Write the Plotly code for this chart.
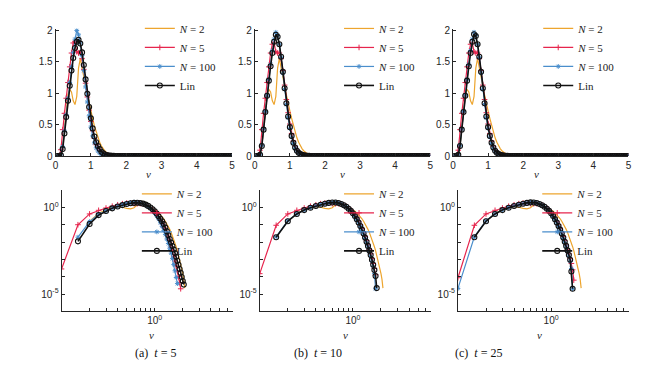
import plotly.graph_objects as go

W, H = 669, 372

# speed grid (same for every panel)
V = [0.05, 0.10, 0.15, 0.20, 0.25, 0.30, 0.35, 0.40, 0.45, 0.50,
     0.55, 0.60, 0.65, 0.70, 0.75, 0.80, 0.85, 0.90, 0.95, 1.00,
     1.05, 1.10, 1.15, 1.20, 1.25, 1.30, 1.35, 1.40, 1.45, 1.50,
     1.55, 1.60, 1.65, 1.70, 1.75, 1.80, 1.85, 1.90, 1.95, 2.00,
     2.05, 2.10, 2.15, 2.20, 2.25, 2.30, 2.35, 2.40, 2.45, 2.50,
     2.55, 2.60, 2.65, 2.70, 2.75, 2.80, 2.85, 2.90, 2.95, 3.00,
     3.05, 3.10, 3.15, 3.20, 3.25, 3.30, 3.35, 3.40, 3.45, 3.50,
     3.55, 3.60, 3.65, 3.70, 3.75, 3.80, 3.85, 3.90, 3.95, 4.00,
     4.05, 4.10, 4.15, 4.20, 4.25, 4.30, 4.35, 4.40, 4.45, 4.50,
     4.55, 4.60, 4.65, 4.70, 4.75, 4.80, 4.85, 4.90, 4.95, 5.00]

# N = 2 looks the same at every time
N2 = [0, 0, 0, 0.16, 0.45, 0.75, 0.98, 1.06, 1.02, 0.88,
      0.82, 0.95, 1.40, 1.55, 1.42, 1.26, 1.10, 0.96, 0.84, 0.72,
      0.60, 0.48, 0.38, 0.29, 0.22, 0.16, 0.115, 0.080, 0.054, 0.036,
      0.023, 0.0145, 0.0089, 0.0054, 0.0032, 0.0018, 0.0010, 5.5e-4, 2.9e-4, 1.5e-4,
      7e-5, 2.2e-5]

# t = 5
N5_A = [0, 2.8e-4, 0.10, 0.42, 0.68, 0.92, 1.17, 1.42, 1.64, 1.80,
        1.82, 1.66, 1.64, 1.65, 1.55, 1.38, 1.16, 0.94, 0.73, 0.55,
        0.40, 0.28, 0.18, 0.115, 0.071, 0.043, 0.026, 0.015, 0.0088, 0.005,
        0.0028, 0.0015, 8e-4, 4.2e-4, 2.1e-4, 1e-4, 4.6e-5, 2e-5]
N100_A = [0, 0, 0.019, 0.15, 0.40, 0.66, 0.92, 1.17, 1.42, 1.65,
          1.86, 2.00, 1.93, 1.80, 1.60, 1.36, 1.10, 0.86, 0.64, 0.46,
          0.32, 0.21, 0.13, 0.08, 0.047, 0.027, 0.015, 0.0083, 0.0044, 0.0023,
          0.0011, 5e-4, 2.2e-4, 9e-5, 4e-5]
LIN_A = [0, 0, 0.011, 0.11, 0.36, 0.62, 0.88, 1.12, 1.36, 1.56,
         1.72, 1.82, 1.85, 1.79, 1.65, 1.45, 1.22, 0.99, 0.78, 0.60,
         0.44, 0.31, 0.22, 0.16, 0.11, 0.068, 0.042, 0.025, 0.015, 0.0093,
         0.0059, 0.0037, 0.0023, 0.0014, 8.3e-4, 4.9e-4, 2.8e-4, 1.7e-4, 9.5e-5, 5.6e-5,
         3.5e-5]

# t = 10
N5_B = [0, 1.5e-4, 0.093, 0.42, 0.68, 0.92, 1.17, 1.42, 1.64, 1.78,
        1.80, 1.66, 1.64, 1.64, 1.55, 1.36, 1.13, 0.90, 0.69, 0.51,
        0.36, 0.24, 0.155, 0.098, 0.06, 0.036, 0.021, 0.012, 0.0068, 0.0038,
        0.0021, 0.0011, 5.8e-4, 3e-4, 1.3e-4]
N100_B = [0, 0, 0.02, 0.17, 0.43, 0.71, 0.97, 1.22, 1.46, 1.68,
          1.86, 1.97, 1.92, 1.78, 1.57, 1.32, 1.06, 0.82, 0.61, 0.44,
          0.30, 0.20, 0.125, 0.078, 0.047, 0.028, 0.016, 0.0092, 0.0052, 0.0028,
          0.0015, 7.8e-4, 3.9e-4, 1.5e-4, 2e-5]
LIN_B = [0, 0, 0.019, 0.16, 0.42, 0.70, 0.96, 1.20, 1.43, 1.64,
         1.82, 1.93, 1.90, 1.78, 1.58, 1.34, 1.08, 0.84, 0.63, 0.46,
         0.32, 0.21, 0.135, 0.085, 0.052, 0.031, 0.018, 0.0105, 0.006, 0.0033,
         0.0018, 9.5e-4, 4.9e-4, 2.4e-4, 1.1e-4, 2.2e-5]

# t = 25
N5_C = [0, 8.7e-5, 0.093, 0.42, 0.68, 0.92, 1.17, 1.42, 1.64, 1.78,
        1.80, 1.66, 1.64, 1.64, 1.55, 1.36, 1.13, 0.90, 0.69, 0.51,
        0.36, 0.24, 0.155, 0.098, 0.06, 0.036, 0.021, 0.012, 0.0068, 0.0038,
        0.0021, 0.0011, 5.8e-4, 2.5e-4, 6.3e-5]
N100_C = [0, 2.1e-5, 0.02, 0.17, 0.43, 0.71, 0.97, 1.22, 1.46, 1.68,
          1.86, 1.97, 1.92, 1.78, 1.57, 1.32, 1.06, 0.82, 0.61, 0.44,
          0.30, 0.20, 0.125, 0.078, 0.047, 0.028, 0.016, 0.0092, 0.0052, 0.0028,
          0.0015, 7.8e-4, 3e-4, 2e-5]
LIN_C = [0, 0, 0.019, 0.16, 0.42, 0.70, 0.96, 1.20, 1.43, 1.64,
         1.82, 1.94, 1.91, 1.78, 1.58, 1.34, 1.08, 0.84, 0.63, 0.46,
         0.32, 0.21, 0.135, 0.085, 0.052, 0.031, 0.018, 0.0105, 0.006, 0.0033,
         0.0018, 9.5e-4, 2e-4, 2e-5]

CAPTIONS = ['(a)  <i>t</i> = 5', '(b)  <i>t</i> = 10', '(c)  <i>t</i> = 25']
NAMES = ['<i>N</i> = 2', '<i>N</i> = 5', '<i>N</i> = 100', 'Lin']

ORANGE = '#EDA52E'
RED = '#E6254D'
BLUE = '#4A8ECC'
BLACK = '#111111'
AX = '#262626'
SERIF = 'Liberation Serif'
SANS = 'Liberation Sans'


def full(vals, log=False):
    # tail of the distribution is zero on the plotted grid;
    # on log axes the zeros are simply not drawn
    ys = vals + [0.0] * (len(V) - len(vals))
    if log:
        ys = [y if y > 0 else None for y in ys]
    return ys


def add_panel(fig, series, xa, ya, legend, log=False):
    n2, n5, n100, lin = series
    fig.add_trace(go.Scatter(x=V, y=full(n2, log), mode='lines', name=NAMES[0],
                             line=dict(color=ORANGE, width=1.2),
                             xaxis=xa, yaxis=ya, legend=legend))
    fig.add_trace(go.Scatter(x=V, y=full(n5, log), mode='lines+markers', name=NAMES[1],
                             line=dict(color=RED, width=1.2),
                             marker=dict(symbol='cross-thin', size=4,
                                         line=dict(color=RED, width=1)),
                             xaxis=xa, yaxis=ya, legend=legend))
    fig.add_trace(go.Scatter(x=V, y=full(n100, log), mode='lines+markers', name=NAMES[2],
                             line=dict(color=BLUE, width=1.2),
                             marker=dict(symbol='asterisk-open', size=4,
                                         line=dict(color=BLUE, width=1)),
                             xaxis=xa, yaxis=ya, legend=legend))
    fig.add_trace(go.Scatter(x=V, y=full(lin, log), mode='lines+markers', name=NAMES[3],
                             line=dict(color=BLACK, width=1.6),
                             marker=dict(symbol='circle-open', size=5,
                                         line=dict(color=BLACK, width=1.1)),
                             xaxis=xa, yaxis=ya, legend=legend))


fig = go.Figure()

data = [(N2, N5_A, N100_A, LIN_A), (N2, N5_B, N100_B, LIN_B), (N2, N5_C, N100_C, LIN_C)]

# pixel boxes of the axes
top_x = [(45, 223), (246, 423), (446, 623)]
bot_x = [(51, 224), (251, 424), (451, 624)]
top_y = (17, 148)
bot_y = (183, 307.6)
top_leg = [180, 381, 582]
bot_leg = [177, 381, 581]


def px_x(p):
    return p / W


def px_y(p):
    return 1 - p / H


layout = dict(width=W, height=H, margin=dict(l=0, r=0, t=0, b=0),
              paper_bgcolor='white', plot_bgcolor='white')

base_axis = dict(showline=True, linecolor=AX, linewidth=1, ticks='inside', ticklen=3,
                 tickcolor=AX, showgrid=False, zeroline=False, mirror=False,
                 tickfont=dict(family=SANS, size=10, color=AX))

leg_style = dict(xanchor='left', yanchor='top', bgcolor='rgba(0,0,0,0)',
                 font=dict(family=SERIF, size=11, color='#222'),
                 tracegroupgap=0, itemwidth=30)

annotations = []
for i in range(3):
    # linear panel
    k = i + 1
    xa, ya = 'x%d' % k, 'y%d' % k
    leg = 'legend' if k == 1 else 'legend%d' % k
    add_panel(fig, data[i], xa, ya, leg)
    layout['xaxis%d' % k] = dict(base_axis, domain=[px_x(top_x[i][0]), px_x(top_x[i][1])],
                                 range=[0, 5], tickvals=[0, 1, 2, 3, 4, 5], anchor=ya)
    layout['yaxis%d' % k] = dict(base_axis, domain=[px_y(top_y[1]), px_y(top_y[0])],
                                 range=[0, 2.03], tickvals=[0, 0.5, 1, 1.5, 2], anchor=xa)
    layout[leg] = dict(leg_style, x=px_x(top_leg[i] - 50), y=px_y(2))

    # log-log panel
    k = i + 4
    xa, ya = 'x%d' % k, 'y%d' % k
    add_panel(fig, data[i], xa, ya, 'legend%d' % k, log=True)
    layout['xaxis%d' % k] = dict(base_axis, type='log',
                                 domain=[px_x(bot_x[i][0]), px_x(bot_x[i][1])],
                                 range=[-1, 0.84],
                                 tickvals=[0.2, 0.3, 0.4, 0.5, 0.6, 0.7, 0.8, 0.9, 1, 2, 3, 4, 5, 6],
                                 ticktext=['', '', '', '', '', '', '', '', '10<sup>0</sup>',
                                           '', '', '', '', ''],
                                 anchor=ya)
    layout['yaxis%d' % k] = dict(base_axis, type='log',
                                 domain=[px_y(bot_y[1]), px_y(bot_y[0])],
                                 range=[-6, 1],
                                 tickvals=[1e-6, 1e-5, 1e-4, 1e-3, 1e-2, 1e-1, 1, 10],
                                 ticktext=['', '10<sup>-5</sup>', '', '', '', '', '10<sup>0</sup>', ''],
                                 anchor=xa)
    layout['legend%d' % k] = dict(leg_style, x=px_x(bot_leg[i] - 50), y=px_y(172))

    # axis labels and captions
    cx_top = (top_x[i][0] + top_x[i][1]) / 2
    cx_bot = (bot_x[i][0] + bot_x[i][1]) / 2
    annotations.append(dict(x=px_x(cx_top), y=px_y(166), xref='paper', yref='paper',
                            text='<i>v</i>', showarrow=False, yanchor='middle',
                            font=dict(family=SERIF, size=11, color=AX)))
    annotations.append(dict(x=px_x(cx_bot), y=px_y(332), xref='paper', yref='paper',
                            text='<i>v</i>', showarrow=False, yanchor='middle',
                            font=dict(family=SERIF, size=11, color=AX)))
    annotations.append(dict(x=px_x([123, 310, 497][i]), y=px_y(350), xref='paper', yref='paper',
                            text=CAPTIONS[i], showarrow=False, yanchor='middle',
                            font=dict(family=SERIF, size=12, color='#111')))

layout['annotations'] = annotations
fig.update_layout(**layout)

fig.write_html("out.html")
